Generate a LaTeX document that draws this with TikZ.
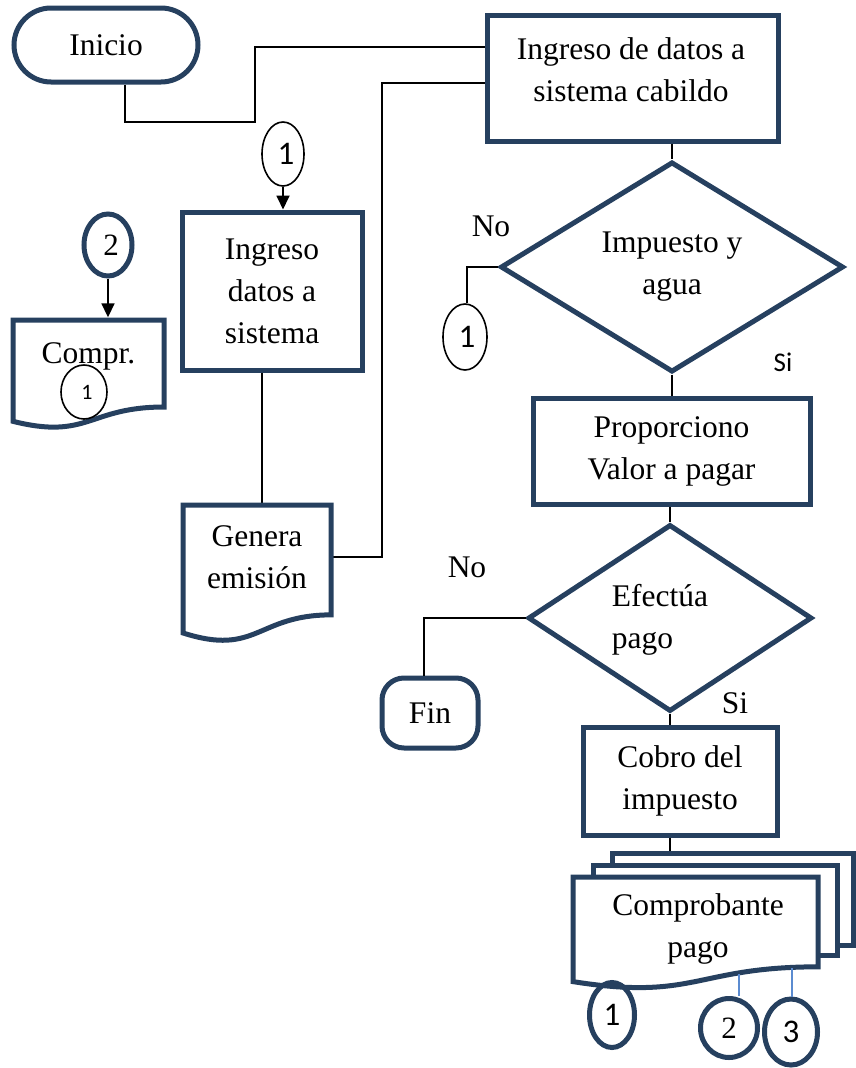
\documentclass[tikz,border=0pt]{standalone}
\usepackage{fontspec}
\setmainfont{Liberation Serif}
\newfontfamily\calib{Carlito}
\usetikzlibrary{shapes.geometric,arrows.meta,calc}
\definecolor{frame}{HTML}{26405F}
\definecolor{thinblue}{HTML}{5B8BD0}

% document symbol: style, left, top, width, height (wavy bottom edge)
\newcommand\docoutline[5]{%
  \draw[#1] (#2,#3) -- ({#2+#4},#3) -- ({#2+#4},{#3+0.802*#5})
    .. controls ({#2+#4/2},{#3+0.802*#5}) and ({#2+#4/2},{#3+1.1075*#5}) ..
    (#2,{#3+0.934*#5}) -- cycle;}

\begin{document}
\begin{tikzpicture}[x=1pt, y=-1pt,
  every node/.style={font=\fontsize{31.5}{42}\selectfont, inner sep=0pt},
  box/.style={draw=frame, line width=5pt, fill=white, align=center},
  shell/.style={draw=frame, line width=5pt, fill=white},
  decide/.style={diamond, draw=frame, line width=5pt, fill=white},
  conn/.style={line width=1.8pt, draw=black},
  tip/.style={-{Triangle[length=14pt,width=13pt]}},
  thinell/.style={ellipse, draw=black, line width=1.6pt},
  thickell/.style={ellipse, draw=frame, line width=5pt},
  sansnum/.style={font=\calib\fontsize{33}{33}\selectfont},
  serifnum/.style={font=\fontsize{31}{31}\selectfont}]
\useasboundingbox (0,0) rectangle (855,1068);

% ---------- nodes ----------
\node[box, rounded corners=37pt, minimum width=184pt, minimum height=74pt] (ini) at (106,45) {Inicio};
\node[box, minimum width=291pt, minimum height=126pt] (cab) at (632.5,78) {};
\node[align=center] (cabt) at (631,70) {Ingreso de datos a\\sistema cabildo};

\node[thinell, sansnum, minimum width=42pt, minimum height=64pt] (c1a) at (283,154) {\hspace*{6pt}1};
\node[box, minimum width=180pt, minimum height=158pt] (ids) at (272,291) {Ingreso\\datos a\\sistema};

\node[thickell, serifnum, minimum width=48pt, minimum height=62pt] (c2a) at (108,245) {\hspace*{6pt}2};

% invisible anchors for the document symbols
\node[minimum width=148pt, minimum height=104pt] (gen) at (257,557) {};
\node[minimum width=151pt, minimum height=76pt] (cmp) at (88.5,358) {};

\node[decide, minimum width=343pt, minimum height=204pt, align=center] (d1) at (672,267) {Impuesto y\\agua};
\node[thinell, sansnum, minimum width=44pt, minimum height=66pt] (c1b) at (465,337) {\hspace*{4pt}1};
\node (no1) at (491,226) {No};
\node[font=\calib\fontsize{27}{27}\selectfont] (si1) at (783,362) {Si};

\node[box, minimum width=277pt, minimum height=106pt] (prop) at (671.5,451) {Proporciono\\Valor a pagar};

\node[decide, minimum width=284pt, minimum height=187pt] (d2) at (670,618) {};
\node[align=left] (d2t) at (660,620) {Efectúa\\pago};
\node (no2) at (467,567) {No};
\node (si2) at (735,703) {Si};

\node[box, rounded corners=22pt, minimum width=96pt, minimum height=70pt] (fin) at (430,713) {Fin};
\node[box, minimum width=194pt, minimum height=108pt] (cob) at (680,781) {Cobro del\\impuesto};

% multi-document: back sheets
\node[shell, minimum width=241pt, minimum height=92pt] (mdb) at (732.5,899) {};
\node[shell, minimum width=244pt, minimum height=90pt] (mdm) at (715,910) {};

% ---------- connectors ----------
\coordinate (k1) at (255,122);
\coordinate (k2) at (382,83);
\draw[conn] ([xshift=19pt]ini.south) |- (k1) |- ([yshift=31pt]cab.west);
\draw[conn] (gen.east) -| (k2) -- (k2 -| cab.west);
\draw[conn, tip] (c1a.south) -- (c1a.south |- ids.north);
\draw[conn] ([xshift=-10pt]ids.south) -- ([xshift=-10pt]ids.south |- gen.north);
\draw[conn, tip] (c2a.south) -- ([yshift=2.5pt]c2a.south |- cmp.north);
\draw[conn] (d1.north |- cab.south) -- (d1.north);
\draw[conn] (d1.west) -| ([xshift=2pt]c1b.north);
\draw[conn] (d1.south) -- (d1.south |- prop.north);
\draw[conn] (d2.north |- prop.south) -- (d2.north);
\draw[conn] (d2.west) -| ([xshift=-6pt]fin.north);
\draw[conn] (d2.south) -- (d2.south |- cob.north);
\draw[conn] (d2.south |- cob.south) -- (d2.south |- mdb.north);

% ---------- document symbols ----------
\docoutline{shell}{183}{505}{148}{137}
\node[align=center] (gent) at (gen.center) {Genera\\emisión};
\docoutline{shell}{13}{320}{151}{108.5}
\node (cmpt) at (88.5,356) {Compr.};
\node[thinell, font=\calib\fontsize{22}{22}\selectfont, minimum width=46pt, minimum height=54pt] (cin) at (84,392) {\hspace*{6pt}\raisebox{-6pt}{1}};

\docoutline{shell}{573}{877}{245}{112}
\node[align=center] (mdf) at (698,929) {Comprobante\\pago};

% ---------- copies of the receipt ----------
\coordinate (b2) at (739,974);
\coordinate (b3) at (792,968);
\node[thickell, sansnum, minimum width=45pt, minimum height=65pt] (c1c) at (612,1015) {1};
\node[thickell, serifnum, minimum width=57pt, minimum height=59pt] (c2b) at (729,1028) {2};
\node[thickell, sansnum, minimum width=53pt, minimum height=66pt] (c3b) at (791,1032) {3};
\draw[thinblue, line width=1.3pt] (b2) -- (b2 |- c2b.north);
\draw[thinblue, line width=1.3pt] (b3) -- (b3 |- c3b.north);
\end{tikzpicture}
\end{document}
